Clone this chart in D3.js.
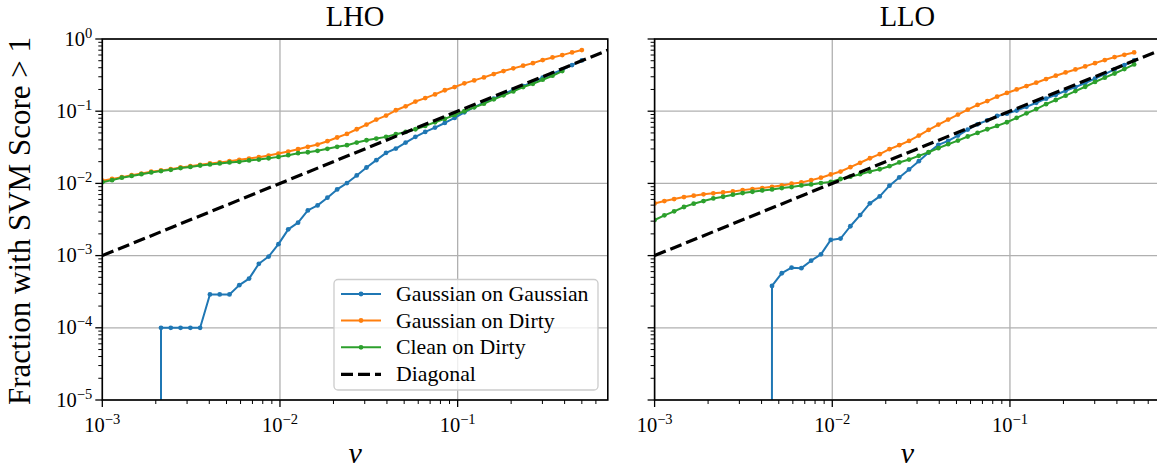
<!DOCTYPE html>
<html>
<head>
<meta charset="utf-8">
<script src="https://cdn.jsdelivr.net/npm/d3@7"></script>
<style>
  body { margin: 0; background: #fff; }
  svg { display: block; }
  text { font-family: "Liberation Serif", "Times New Roman", serif; fill: #000; }
</style>
</head>
<body>
<svg id="chart" width="1157" height="473"></svg>
<script>
// nu grid shared by every curve (log-spaced from 1e-3 to 0.5)
const nu = [0.001, 0.001135, 0.001288, 0.001463, 0.00166, 0.001885, 0.00214, 0.002429, 0.002757, 0.00313,
            0.003553, 0.004034, 0.004579, 0.005198, 0.005901, 0.006699, 0.007605, 0.008633, 0.009805, 0.01113,
            0.01264, 0.01435, 0.01628, 0.01849, 0.02098, 0.02382, 0.02704, 0.0307, 0.03485, 0.03956,
            0.0449, 0.05097, 0.05787, 0.06569, 0.07457, 0.08466, 0.09614, 0.1091, 0.1239, 0.1406,
            0.1597, 0.1812, 0.2057, 0.2336, 0.2652, 0.3011, 0.3418, 0.388, 0.4405, 0.5];

// LHO: fraction of samples with SVM score > 1
const lhoGaussOnGauss = [0, 0, 0, 0, 0, 0, 1.0e-4, 1.0e-4, 1.0e-4, 1.0e-4,
                         1.0e-4, 2.9e-4, 2.9e-4, 2.9e-4, 3.9e-4, 4.8e-4, 7.7e-4, 9.7e-4, 1.44e-3, 2.31e-3,
                         2.86e-3, 4.23e-3, 4.96e-3, 6.34e-3, 8.26e-3, 0.0101, 0.0129, 0.0166, 0.0210, 0.0265,
                         0.0304, 0.0368, 0.0441, 0.0516, 0.0593, 0.0687, 0.0807, 0.0966, 0.114, 0.131,
                         0.149, 0.171, 0.199, 0.223, 0.254, 0.291, 0.330, 0.375, 0.436, 0.505];
const lhoGaussOnDirty = [0.0109, 0.0115, 0.0122, 0.0130, 0.0137, 0.0145, 0.0151, 0.0157, 0.0166, 0.0173,
                         0.0181, 0.0189, 0.0195, 0.0203, 0.0212, 0.0221, 0.0231, 0.0243, 0.0259, 0.0276,
                         0.0297, 0.0321, 0.0345, 0.0384, 0.0432, 0.0485, 0.0562, 0.0652, 0.0766, 0.0869,
                         0.103, 0.117, 0.136, 0.152, 0.171, 0.195, 0.216, 0.243, 0.267, 0.294,
                         0.327, 0.360, 0.392, 0.427, 0.463, 0.511, 0.555, 0.598, 0.652, 0.702];
const lhoCleanOnDirty = [0.0104, 0.0111, 0.0120, 0.0127, 0.0134, 0.0142, 0.0148, 0.0154, 0.0163, 0.0169,
                         0.0177, 0.0183, 0.0189, 0.0195, 0.0199, 0.0208, 0.0214, 0.0223, 0.0233, 0.0246,
                         0.0262, 0.0270, 0.0283, 0.0301, 0.0321, 0.0338, 0.0368, 0.0396, 0.0418, 0.0441,
                         0.0480, 0.0516, 0.0562, 0.0625, 0.0703, 0.0782, 0.0887, 0.0998, 0.113, 0.127,
                         0.146, 0.166, 0.188, 0.216, 0.240, 0.273, 0.310, 0.360];

// LLO
const lloGaussOnGauss = [0, 0, 0, 0, 0, 0, 0, 0, 0, 0,
                         0, 0, 3.8e-4, 5.7e-4, 6.8e-4, 6.7e-4, 8.5e-4, 1.04e-3, 1.65e-3, 1.72e-3,
                         2.55e-3, 3.64e-3, 5.3e-3, 6.6e-3, 9.3e-3, 0.0121, 0.0156, 0.0203, 0.0268, 0.0342,
                         0.0388, 0.0459, 0.0556, 0.0659, 0.0748, 0.0859, 0.0925, 0.102, 0.115, 0.131,
                         0.149, 0.169, 0.192, 0.216, 0.246, 0.282, 0.327, 0.379, 0.436, 0.505];
const lloGaussOnDirty = [0.00528, 0.00570, 0.00607, 0.00647, 0.00675, 0.00705, 0.00728, 0.00750, 0.00774, 0.00807,
                         0.00834, 0.00861, 0.00897, 0.00937, 0.00989, 0.0103, 0.0111, 0.0120, 0.0133, 0.0146,
                         0.0168, 0.0193, 0.0223, 0.0254, 0.0298, 0.0338, 0.0388, 0.0459, 0.0551, 0.0652,
                         0.0766, 0.0897, 0.105, 0.122, 0.138, 0.159, 0.179, 0.200, 0.223, 0.248,
                         0.279, 0.310, 0.344, 0.379, 0.417, 0.463, 0.511, 0.561, 0.604, 0.652];
const lloCleanOnDirty = [0.00311, 0.00361, 0.00410, 0.00471, 0.00524, 0.00570, 0.00619, 0.00653, 0.00697, 0.00735,
                         0.00766, 0.00800, 0.00826, 0.00861, 0.00889, 0.00937, 0.00968, 0.0101, 0.0105, 0.0115,
                         0.0124, 0.0134, 0.0146, 0.0157, 0.0173, 0.0195, 0.0214, 0.0241, 0.0270, 0.0308,
                         0.0349, 0.0392, 0.0446, 0.0500, 0.0562, 0.0625, 0.0703, 0.0809, 0.0935, 0.107,
                         0.125, 0.143, 0.164, 0.190, 0.218, 0.254, 0.291, 0.333, 0.383, 0.445];

// y = x reference line endpoints
const diagonal = [0.001, 1];

const seriesNames = ["Gaussian on Gaussian", "Gaussian on Dirty", "Clean on Dirty"];
const seriesColors = ["#1f77b4", "#ff7f0e", "#2ca02c"];
const panelTitles = ["LHO", "LLO"];
const xTickExps = [-3, -2, -1];
const yTickExps = [0, -1, -2, -3, -4, -5];

const panelData = [
  [lhoGaussOnGauss, lhoGaussOnDirty, lhoCleanOnDirty],
  [lloGaussOnGauss, lloGaussOnDirty, lloCleanOnDirty]
];

// ---- layout ----
const svg = d3.select("#chart");
const panelLefts = [102.3, 654.6];
const plotW = 505.5, plotTop = 39, plotBottom = 400;
const xDomain = [1e-3, 0.7], yDomain = [1e-5, 1];
const gridColor = "#b0b0b0";

function minorValues(domain) {
  const out = [];
  const lo = Math.floor(Math.log10(domain[0])), hi = Math.ceil(Math.log10(domain[1]));
  for (let e = lo; e < hi; e++) {
    for (let m = 2; m <= 9; m++) {
      const v = m * Math.pow(10, e);
      if (v >= domain[0] && v <= domain[1]) out.push(v);
    }
  }
  return out;
}

function powLabel(sel, exp) {
  sel.append("tspan").text("10");
  sel.append("tspan").attr("dy", -8).attr("font-size", 14.5)
     .text(exp < 0 ? "\u2212" + Math.abs(exp) : String(exp));
}

panelData.forEach((series, p) => {
  const left = panelLefts[p];
  const x = d3.scaleLog().domain(xDomain).range([left, left + plotW]);
  const y = d3.scaleLog().domain(yDomain).range([plotBottom, plotTop]);
  const g = svg.append("g");

  const clipId = "clip" + p;
  svg.append("defs").append("clipPath").attr("id", clipId)
    .append("rect").attr("x", left).attr("y", plotTop).attr("width", plotW).attr("height", plotBottom - plotTop);

  // major grid
  const grid = g.append("g").attr("stroke", gridColor).attr("stroke-width", 1.3);
  xTickExps.forEach(e => {
    const xv = x(Math.pow(10, e));
    grid.append("line").attr("x1", xv).attr("x2", xv).attr("y1", plotTop).attr("y2", plotBottom);
  });
  yTickExps.forEach(e => {
    const yv = y(Math.pow(10, e));
    grid.append("line").attr("x1", left).attr("x2", left + plotW).attr("y1", yv).attr("y2", yv);
  });

  // curves (non-positive values are clipped far below the axes, as on a log axis)
  const plot = g.append("g").attr("clip-path", `url(#${clipId})`);
  const yy = v => v > 0 ? y(v) : y(1e-300);
  series.forEach((vals, s) => {
    const pts = vals.map((v, i) => [nu[i], v]);
    plot.append("path")
      .attr("d", d3.line().x(d => x(d[0])).y(d => yy(d[1]))(pts))
      .attr("fill", "none").attr("stroke", seriesColors[s]).attr("stroke-width", 2)
      .attr("stroke-linejoin", "round");
    plot.append("g").selectAll("circle").data(pts.filter(d => d[1] > 0)).join("circle")
      .attr("cx", d => x(d[0])).attr("cy", d => y(d[1])).attr("r", 2.4)
      .attr("fill", seriesColors[s]);
  });
  plot.append("path")
    .attr("d", d3.line().x(d => x(d)).y(d => y(d))(diagonal))
    .attr("fill", "none").attr("stroke", "#000").attr("stroke-width", 3.2)
    .attr("stroke-dasharray", "12,5");

  // ticks
  const ticks = g.append("g").attr("stroke", "#000").attr("stroke-width", 1.3);
  xTickExps.forEach(e => {
    const xv = x(Math.pow(10, e));
    ticks.append("line").attr("x1", xv).attr("x2", xv).attr("y1", plotBottom).attr("y2", plotBottom + 7);
  });
  minorValues(xDomain).forEach(v => {
    const xv = x(v);
    ticks.append("line").attr("x1", xv).attr("x2", xv).attr("y1", plotBottom).attr("y2", plotBottom + 4)
      .attr("stroke-width", 1);
  });
  yTickExps.forEach(e => {
    const yv = y(Math.pow(10, e));
    ticks.append("line").attr("x1", left - 7).attr("x2", left).attr("y1", yv).attr("y2", yv);
  });
  minorValues(yDomain).forEach(v => {
    const yv = y(v);
    ticks.append("line").attr("x1", left - 4).attr("x2", left).attr("y1", yv).attr("y2", yv)
      .attr("stroke-width", 1);
  });

  // frame
  g.append("rect").attr("x", left).attr("y", plotTop).attr("width", plotW).attr("height", plotBottom - plotTop)
    .attr("fill", "none").attr("stroke", "#000").attr("stroke-width", 1.6);

  // tick labels
  xTickExps.forEach(e => {
    const t = g.append("text").attr("x", x(Math.pow(10, e))).attr("y", 431.5)
      .attr("text-anchor", "middle").attr("font-size", 20.5);
    powLabel(t, e);
  });
  if (p === 0) {
    yTickExps.forEach(e => {
      const t = g.append("text").attr("x", left - 10).attr("y", y(Math.pow(10, e)) + 6.5)
        .attr("text-anchor", "end").attr("font-size", 20.5);
      powLabel(t, e);
    });
  }

  // title and x label
  g.append("text").attr("x", left + plotW / 2).attr("y", 26).attr("text-anchor", "middle")
    .attr("font-size", 28.5).text(panelTitles[p]);
  g.append("text").attr("x", left + plotW / 2).attr("y", 463).attr("text-anchor", "middle")
    .attr("font-size", 30).attr("font-style", "italic").text("\u03bd");
});

// y label
svg.append("text").attr("transform", "translate(30,221) rotate(-90)")
  .attr("text-anchor", "middle").attr("font-size", 31)
  .text("Fraction with SVM Score > 1");

// legend (left panel)
const lg = svg.append("g");
lg.append("rect").attr("x", 334).attr("y", 279.5).attr("width", 264).attr("height", 110.5)
  .attr("rx", 4).attr("fill", "#fff").attr("fill-opacity", 0.8)
  .attr("stroke", "#cccccc").attr("stroke-width", 1.3);
const legendEntries = seriesNames.map((n, i) => ({ name: n, color: seriesColors[i], dashed: false }))
  .concat([{ name: "Diagonal", color: "#000", dashed: true }]);
const rowY = [294, 320.5, 347.3, 374.3];
legendEntries.forEach((d, i) => {
  const yv = rowY[i];
  const l = lg.append("line").attr("x1", 341).attr("x2", 381).attr("y1", yv).attr("y2", yv)
    .attr("stroke", d.color).attr("stroke-width", d.dashed ? 3.2 : 2);
  if (d.dashed) {
    l.attr("stroke-dasharray", "12,5");
  } else {
    lg.append("circle").attr("cx", 361).attr("cy", yv).attr("r", 2.4).attr("fill", d.color);
  }
  lg.append("text").attr("x", 396).attr("y", yv + 7).attr("font-size", 21.8).text(d.name);
});
</script>
</body>
</html>
